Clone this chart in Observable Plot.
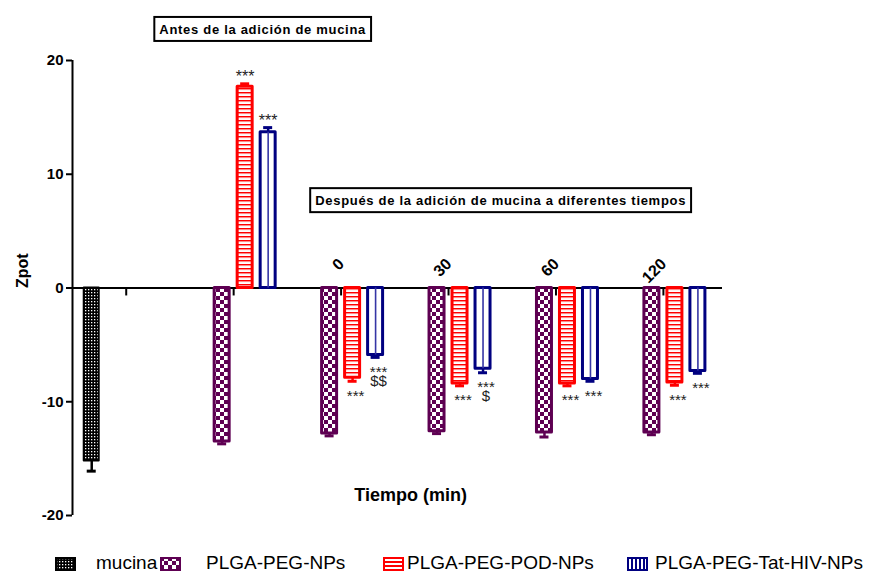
<!DOCTYPE html>
<html><head><meta charset="utf-8">
<script src="https://cdn.jsdelivr.net/npm/d3@7"></script>
<script src="https://cdn.jsdelivr.net/npm/@observablehq/plot@0.6"></script>
<style>
body{margin:0;background:#fff;font-family:"Liberation Sans",Arial,sans-serif;}
#legend{position:relative;height:26px;width:875px;font-size:19px;color:#000;}
#legend .sw{position:absolute;top:7px;}
#legend .lb{position:absolute;top:0;line-height:26px;white-space:nowrap;}
</style></head><body>
<svg width="0" height="0" style="position:absolute">
<defs>
<pattern id="p-mucina" width="3" height="3" patternUnits="userSpaceOnUse"><rect width="3" height="3" fill="#000"/><rect x="1" y="1" width="1.3" height="1.3" fill="#fff"/></pattern>
<pattern id="p-peg" width="8" height="8" patternUnits="userSpaceOnUse"><rect width="8" height="8" fill="#fff"/><rect width="4" height="4" fill="#5e0052"/><rect x="4" y="4" width="4" height="4" fill="#5e0052"/></pattern>
<pattern id="p-pod" width="4" height="4" patternUnits="userSpaceOnUse"><rect width="4" height="4" fill="#fff"/><rect width="4" height="1.5" fill="#ff0000"/><rect y="1.5" width="4" height="0.6" fill="#ff9090"/></pattern>
<pattern id="p-podL" width="4" height="4" patternUnits="userSpaceOnUse"><rect width="4" height="4" fill="#ff0000"/><rect y="2" width="4" height="2" fill="#fff"/></pattern>
<pattern id="p-tatL" width="4" height="4" patternUnits="userSpaceOnUse"><rect width="4" height="4" fill="#000080"/><rect x="2" width="2" height="4" fill="#fff"/></pattern>
</defs></svg>
<div id="chart"></div>
<div id="legend"></div>
<script>
// ---------------- data ----------------
const groups = ["mucina", "antes", "0", "30", "60", "120"];
const timeGroups = ["0", "30", "60", "120"];
const seriesNames = ["mucina", "PLGA-PEG-NPs", "PLGA-PEG-POD-NPs", "PLGA-PEG-Tat-HIV-NPs"];
const mucinaGroups = ["mucina"];
const mucinaValues = [-15.2];
const mucinaErrors = [0.9];
const sampleGroups = ["antes", "0", "30", "60", "120"];
const pegValues = [-13.5, -12.8, -12.6, -12.7, -12.7];
const pegErrors = [0.2, 0.2, 0.2, 0.4, 0.2];
const podValues = [17.7, -7.9, -8.4, -8.4, -8.3];
const podErrors = [0.25, 0.3, 0.2, 0.2, 0.25];
const tatValues = [13.7, -5.9, -7.1, -8.0, -7.3];
const tatErrors = [0.4, 0.2, 0.35, 0.2, 0.2];
const podSig = ["***", "***", "***", "***", "***"];
const tatSig = ["***", "***\n$$", "***\n$", "***", "***"];
const yTicks = [-20, -10, 0, 10, 20];
const yLabel = "Zpot";
const xLabel = "Tiempo (min)";
const noteBefore = "Antes de la adición de mucina";
const noteAfter = "Después de la adición de mucina a diferentes tiempos";

// ---------------- layout / style ----------------
const W = 875, H = 550, mL = 72, mR = 153, mT = 60, mB = 35;
const xDomain = [-0.5, 5.55];
const unit = (W - mL - mR) / (xDomain[1] - xDomain[0]);
const slot = 23 / unit, barW = 15 / unit, cap = 4.5 / unit;
const fills = ["url(#p-mucina)", "url(#p-peg)", "url(#p-pod)", "#fff"];
const strokes = ["#000", "#5e0052", "#ff0000", "#000080"];
const sws = [2, 3, 3, 3];
const font = "Liberation Sans, Arial, sans-serif";

const rows = [];
mucinaValues.forEach((v, i) => rows.push({s: 0, g: groups.indexOf(mucinaGroups[i]), value: v, err: mucinaErrors[i], sig: ""}));
sampleGroups.forEach((gn, i) => {
  const g = groups.indexOf(gn);
  rows.push({s: 1, g, value: pegValues[i], err: pegErrors[i], sig: ""});
  rows.push({s: 2, g, value: podValues[i], err: podErrors[i], sig: podSig[i]});
  rows.push({s: 3, g, value: tatValues[i], err: tatErrors[i], sig: tatSig[i]});
});
const cx = d => d.g + (d.s - 1.5) * slot;
const end = d => d.value + Math.sign(d.value) * d.err;

const marks = [];
marks.push(Plot.ruleY([0], {stroke: "#000", strokeWidth: 2}));
marks.push(Plot.ruleX(groups.map((d, i) => i), {x: d => d, y1: 0, y2: -0.7, stroke: "#000", strokeWidth: 2}));
seriesNames.forEach((name, s) => {
  const data = rows.filter(r => r.s === s);
  marks.push(Plot.ruleX(data, {x: cx, y1: "value", y2: end, stroke: strokes[s], strokeWidth: 2.5}));
  marks.push(Plot.ruleY(data, {y: end, x1: d => cx(d) - cap, x2: d => cx(d) + cap, stroke: strokes[s], strokeWidth: 3}));
  marks.push(Plot.rect(data, {x1: d => cx(d) - barW / 2, x2: d => cx(d) + barW / 2, y1: 0, y2: "value",
    fill: fills[s], stroke: strokes[s], strokeWidth: sws[s], strokeLinejoin: "round"}));
  if (s === 3) marks.push(Plot.ruleX(data, {x: cx, y1: 0, y2: "value", stroke: "#3535a5", strokeWidth: 1.6}));
});
marks.push(Plot.ruleX([xDomain[0]], {y1: yTicks[0], y2: yTicks[yTicks.length - 1], stroke: "#000", strokeWidth: 2}));
marks.push(Plot.axisY({ticks: yTicks, tickSize: 6, tickPadding: 3, strokeWidth: 2, fontSize: 15, fontWeight: "bold", label: null, tickFormat: d => String(d)}));
// significance
const sigAbove = rows.filter(r => r.sig && r.value > 0);
const sigBelow = rows.filter(r => r.sig && r.value < 0);
marks.push(Plot.text(sigAbove, {x: cx, y: end, text: "sig", lineAnchor: "bottom", dy: -2, fontSize: 16, fill: "#222", fontWeight: "normal", letterSpacing: "1.3px"}));
marks.push(Plot.text(sigBelow, {x: cx, y: end, text: "sig", lineAnchor: "top", lineHeight: 0.6, dx: 3, dy: 13, fontSize: 15, fill: "#222", fontWeight: "normal", letterSpacing: "1.3px"}));
// time labels
marks.push(Plot.text(timeGroups, {x: d => groups.indexOf(d), y: 0, text: d => d, rotate: -45, textAnchor: "end", lineAnchor: "bottom", dx: 4, dy: -23, fontSize: 16, fontWeight: "bold"}));
// axis labels
marks.push(Plot.text([yLabel], {frameAnchor: "left", y: 0, text: d => d, rotate: -90, dx: -50, fontSize: 16, fontWeight: "bold"}));
marks.push(Plot.text([xLabel], {x: 2.647, y: -18.2, text: d => d, fontSize: 18, fontWeight: "bold"}));
// notes
marks.push(Plot.text([noteBefore], {x: 1.27, y: 22.7, text: d => d, fontSize: 13, fontWeight: "bold"}));
marks.push(Plot.text([noteAfter], {x: 3.485, y: 7.65, text: d => d, fontSize: 13, fontWeight: "bold"}));

const chart = Plot.plot({
  width: W, height: H, marginLeft: mL, marginRight: mR, marginTop: mT, marginBottom: mB,
  x: {type: "linear", domain: xDomain, axis: null},
  y: {domain: [yTicks[0], yTicks[yTicks.length - 1]], axis: null},
  style: {fontFamily: font, fontSize: "15px", fontWeight: "bold", color: "#000", background: "#fff", overflow: "visible"},
  marks
});
document.getElementById("chart").appendChild(chart);

// boxes around notes
const notes = [noteBefore, noteAfter];
d3.select(chart).selectAll("text").each(function() {
  if (!notes.includes(this.textContent)) return;
  this.setAttribute("letter-spacing", "0.7px");
  const b = this.getBBox();
  const r = document.createElementNS("http://www.w3.org/2000/svg", "rect");
  r.setAttribute("x", b.x - 5); r.setAttribute("y", b.y - 5);
  r.setAttribute("width", b.width + 10); r.setAttribute("height", b.height + 9);
  r.setAttribute("fill", "#fff"); r.setAttribute("stroke", "#000"); r.setAttribute("stroke-width", 2);
  if (this.getAttribute("transform")) r.setAttribute("transform", this.getAttribute("transform"));
  this.parentNode.insertBefore(r, this);
});

// legend
const legendFills = [["url(#p-mucina)", "#000"], ["url(#p-peg)", "#5e0052"], ["url(#p-podL)", "#ff0000"], ["url(#p-tatL)", "#000080"]];
const swLeft = [55, 160, 383, 627], lbLeft = [96, 206, 407, 655];
const leg = d3.select("#legend");
seriesNames.forEach((name, i) => {
  const sv = leg.append("svg").attr("class", "sw").attr("width", 21).attr("height", 14).style("left", swLeft[i] + "px");
  sv.append("rect").attr("x", 1).attr("y", 1).attr("width", 19).attr("height", 12)
    .attr("fill", legendFills[i][0]).attr("stroke", legendFills[i][1]).attr("stroke-width", 2);
  leg.append("span").attr("class", "lb").style("left", lbLeft[i] + "px").text(name);
});
</script>
</body></html>
